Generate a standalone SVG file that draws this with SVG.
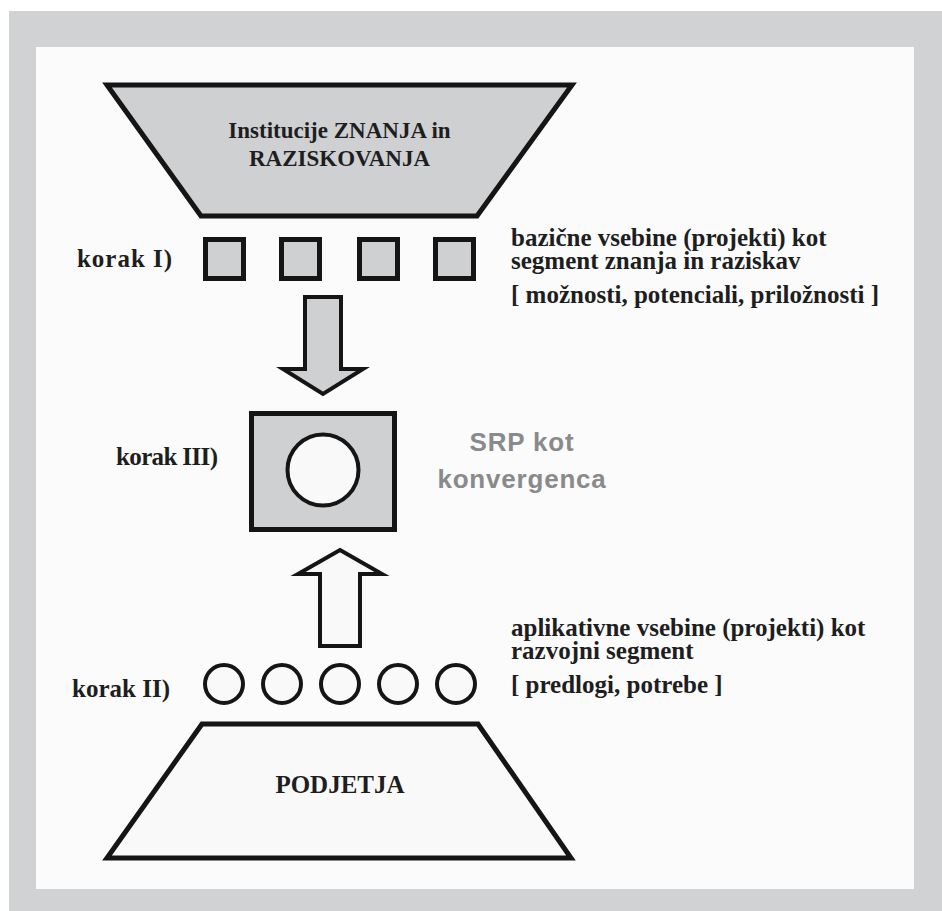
<svg xmlns="http://www.w3.org/2000/svg" width="942" height="911" viewBox="0 0 942 911">
<style>
.shape{stroke:#151515;stroke-linejoin:miter;stroke-miterlimit:10}
.g{fill:#cfd0d2}
.w{fill:#f9f9f9}
.t{font-family:"Liberation Serif","Times New Roman",serif;font-weight:bold;fill:#1e1e1e}
.s{font-family:"Liberation Sans",Arial,sans-serif;font-weight:bold;fill:#898a8c;font-size:26px;letter-spacing:0.8px}
</style>
<rect x="9" y="11" width="933" height="900" fill="#d1d2d4"/>
<rect x="36" y="47" width="878" height="842" fill="#fbfbfb"/>
<g id="institucije">
<polygon class="shape g" stroke-width="5" points="107,85 572,85 477,216 201,216"/>
<text class="t" x="339.5" y="138" font-size="23" text-anchor="middle">Institucije ZNANJA in</text>
<text class="t" x="339.5" y="166" font-size="23" text-anchor="middle">RAZISKOVANJA</text>
</g>
<g id="korak1">
<text class="t" x="77" y="267" font-size="25" textLength="95" lengthAdjust="spacing">korak I)</text>
<rect class="shape g" stroke-width="5" x="205.5" y="239.5" width="38" height="39"/>
<rect class="shape g" stroke-width="5" x="281.5" y="239.5" width="38" height="39"/>
<rect class="shape g" stroke-width="5" x="359.5" y="239.5" width="38" height="39"/>
<rect class="shape g" stroke-width="5" x="435.5" y="239.5" width="38" height="39"/>
</g>
<g id="bazicne">
<text class="t" x="511" y="246" font-size="25">bazične vsebine (projekti) kot</text>
<text class="t" x="511" y="269" font-size="25">segment znanja in raziskav</text>
<text class="t" x="511" y="303" font-size="25">[ možnosti, potenciali, priložnosti ]</text>
</g>
<g id="connectors">
<polygon class="shape g" stroke-width="4" points="305,297 341,297 341,369 363,369 323,394 283,369 305,369"/>
<polygon class="shape w" stroke-width="4" points="340,550 382,574 360,574 360,646 320,646 320,574 298,574"/>
</g>
<g id="korak3">
<text class="t" x="116" y="465" font-size="25" textLength="102" lengthAdjust="spacing">korak III)</text>
<rect class="shape g" stroke-width="5" x="251.5" y="413.5" width="143" height="116"/>
<circle class="shape w" stroke-width="4" cx="323" cy="470" r="35.5"/>
</g>
<g id="srp">
<text class="s" x="522" y="451" text-anchor="middle">SRP kot</text>
<text class="s" x="522" y="488" text-anchor="middle">konvergenca</text>
</g>
<g id="aplikativne">
<text class="t" x="511" y="636" font-size="25">aplikativne vsebine (projekti) kot</text>
<text class="t" x="511" y="659" font-size="25">razvojni segment</text>
<text class="t" x="511" y="693" font-size="25">[ predlogi, potrebe ]</text>
</g>
<g id="korak2">
<text class="t" x="72" y="697" font-size="25" textLength="98" lengthAdjust="spacing">korak II)</text>
<circle class="shape w" stroke-width="4" cx="224" cy="684" r="19"/>
<circle class="shape w" stroke-width="4" cx="282" cy="684" r="19"/>
<circle class="shape w" stroke-width="4" cx="340" cy="684" r="19"/>
<circle class="shape w" stroke-width="4" cx="398" cy="684" r="19"/>
<circle class="shape w" stroke-width="4" cx="456" cy="684" r="19"/>
</g>
<g id="podjetja">
<polygon class="shape w" stroke-width="5" points="202,724 478,724 571,858 107,858"/>
<text class="t" x="340" y="793" font-size="25" text-anchor="middle">PODJETJA</text>
</g>
</svg>
